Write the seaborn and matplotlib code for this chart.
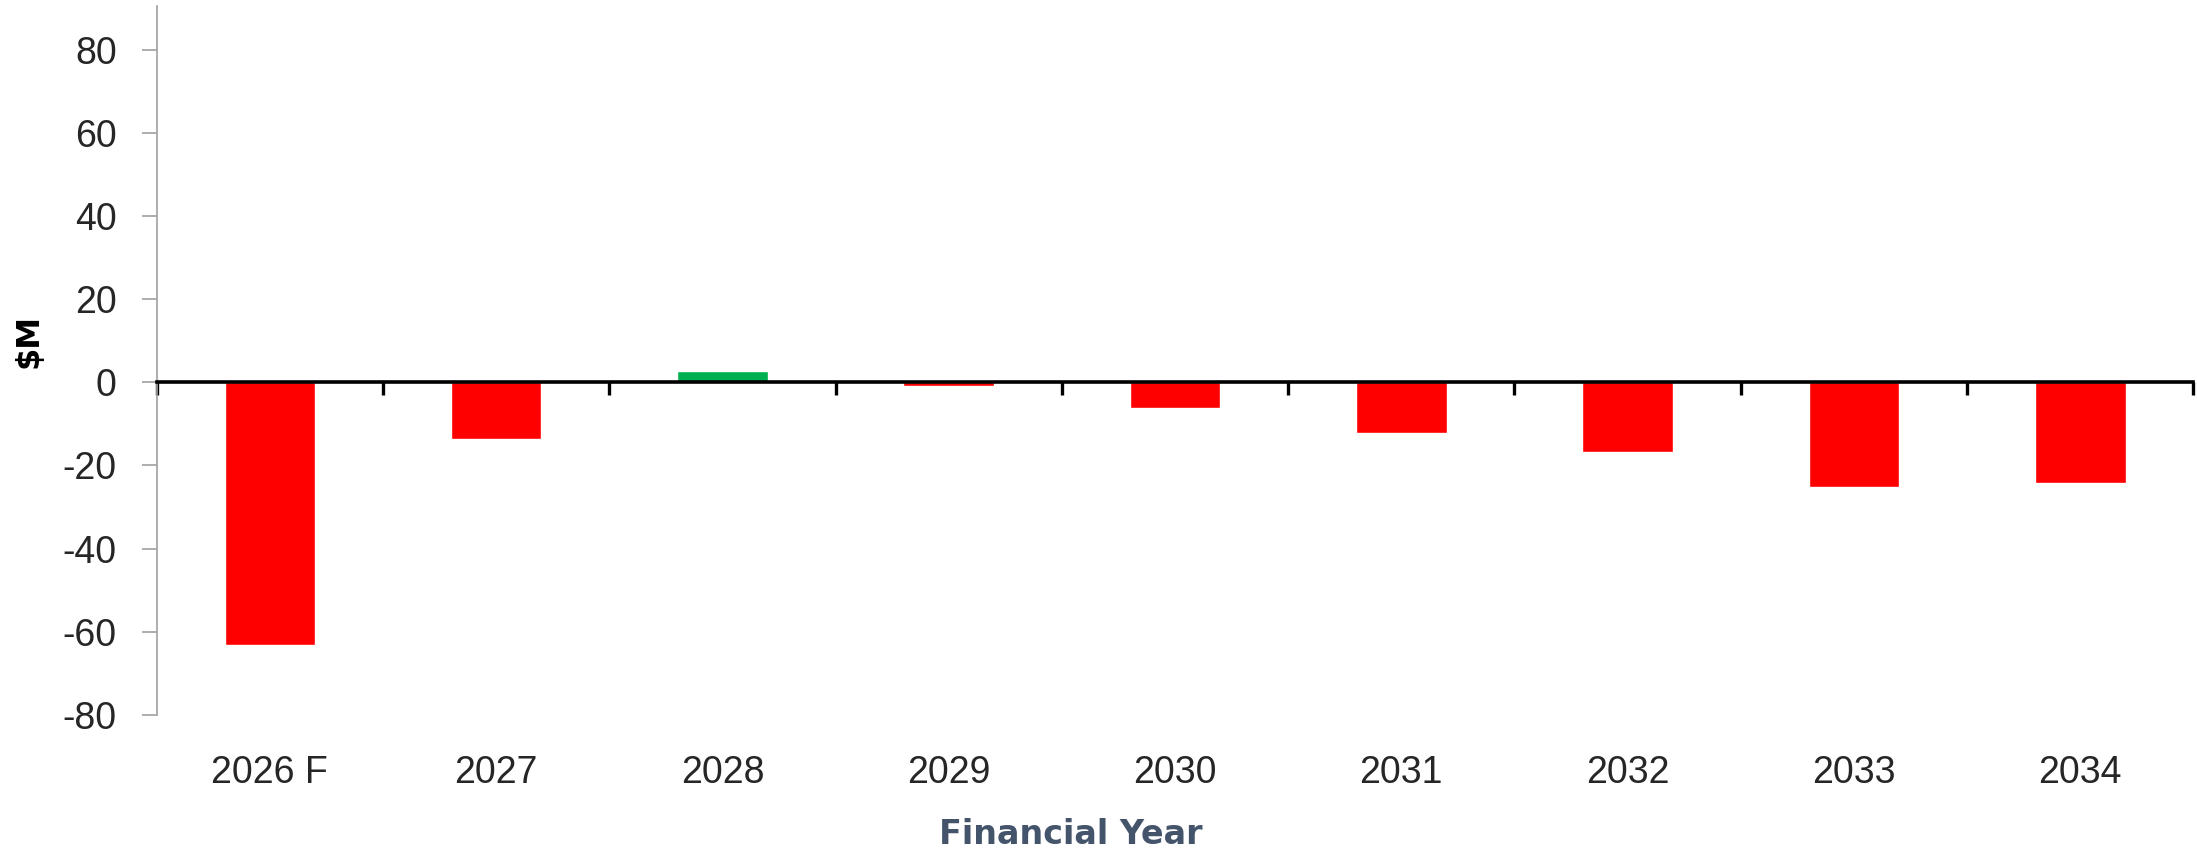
import matplotlib
matplotlib.use("Agg")
import matplotlib.pyplot as plt
import seaborn as sns
import pandas as pd

categories = ["2026 F", "2027", "2028", "2029", "2030", "2031", "2032", "2033", "2034"]
values = [-63.3, -13.6, 2.6, -1.0, -6.1, -12.1, -16.7, -25.2, -24.3]
y_ticks = [-80, -60, -40, -20, 0, 20, 40, 60, 80]
x_title = "Financial Year"
y_title = "$M"

POS_COLOR = "#00B050"
NEG_COLOR = "#FF0000"

sns.set_theme(style="white")
plt.rcParams["font.family"] = ["Liberation Sans", "DejaVu Sans"]
plt.rcParams["axes.unicode_minus"] = False

df = pd.DataFrame({"year": categories, "value": values})
palette = {c: (POS_COLOR if v > 0 else NEG_COLOR) for c, v in zip(categories, values)}

W, H = 2197, 850
fig = plt.figure(figsize=(W / 100, H / 100), dpi=100)
left, right, top, bottom = 156.7, 2193.4, 6.0, 714.9
ax = fig.add_axes([left / W, 1 - bottom / H, (right - left) / W, (bottom - top) / H])

sns.barplot(data=df, x="year", y="value", hue="year", palette=palette,
            order=categories, hue_order=categories, legend=False,
            width=0.4, saturation=1, ax=ax)

n = len(categories)
ax.set_xlim(-0.5, n - 0.5)
ax.set_ylim(-80, 90.5)
ax.set_yticks(y_ticks)
ax.set_xlabel("")
ax.set_ylabel("")

# spines
ax.spines["top"].set_visible(False)
ax.spines["right"].set_visible(False)
ax.spines["left"].set_color("#A0A0A0")
ax.spines["left"].set_linewidth(1.2)
ax.spines["bottom"].set_position(("data", 0))
ax.spines["bottom"].set_color("black")
ax.spines["bottom"].set_linewidth(2.6)
ax.spines["bottom"].set_zorder(3)

# boundary ticks on the zero line
ax.set_xticks([i - 0.5 for i in range(n + 1)])
ax.set_xticklabels([])
ax.tick_params(axis="x", which="major", direction="out", length=9.7, width=2.4,
               color="black", bottom=True)

# y ticks
ax.tick_params(axis="y", which="major", direction="out", length=10.8, width=1.2,
               color="#A0A0A0", labelsize=27, labelcolor="#262626", pad=18, left=True)

# category labels at bottom of axes
sec = ax.secondary_xaxis(0.0)
sec.set_xticks(range(n))
sec.set_xticklabels(categories)
sec.spines["bottom"].set_visible(False)
sec.tick_params(axis="x", length=0, labelsize=27, labelcolor="#262626", pad=29)

fig.text(1071 / W, 1 - 844 / H, x_title, ha="center", va="baseline",
         fontsize=24, fontweight="bold", color="#44546A", family="DejaVu Sans")
fig.text(29 / W, 1 - 341 / H, y_title, ha="center", va="center", rotation=90,
         fontsize=23, fontweight="bold", color="black", family="DejaVu Sans")

fig.savefig("out.png", dpi=100, facecolor="white")
